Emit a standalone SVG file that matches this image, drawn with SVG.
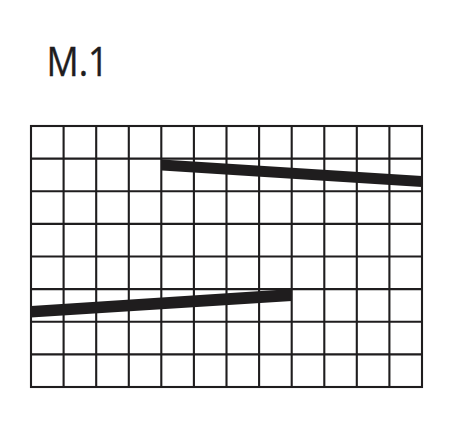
<svg xmlns="http://www.w3.org/2000/svg" width="450" height="424" viewBox="0 0 450 424">
<style>
.grid{stroke:#1f1d1e;stroke-width:2.1;fill:none}
.bar{fill:#1f1d1e}
.title{font-family:"Open Sans","Liberation Sans",sans-serif;font-size:41px;fill:#1f1d1e;stroke:#1f1d1e;stroke-width:0.4}
</style>
<rect width="450" height="424" fill="#ffffff"/>
<g id="title"><text class="title" x="46.5" y="76" textLength="62" lengthAdjust="spacingAndGlyphs">M.1</text></g>
<g id="grid">
<rect class="grid" x="31" y="126" width="391" height="261"/>
<path class="grid" d="M63.6 126V387M96.2 126V387M128.8 126V387M161.3 126V387M193.9 126V387M226.5 126V387M259.1 126V387M291.7 126V387M324.3 126V387M356.8 126V387M389.4 126V387
M31 158.6H422M31 191.3H422M31 223.9H422M31 256.5H422M31 289.1H422M31 321.8H422M31 354.4H422"/>
</g>
<g id="connectors">
<polygon class="bar" points="162,159.5 422,176 422,187 162,170.5"/>
<polygon class="bar" points="31,306 292,289 292,301 31,317.5"/>
</g>
</svg>
